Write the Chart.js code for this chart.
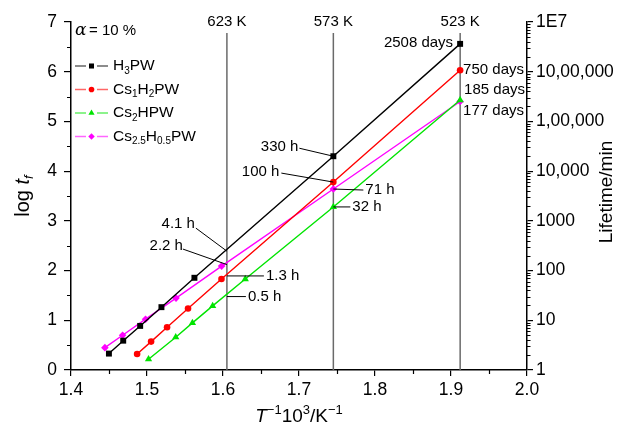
<!DOCTYPE html>
<html><head><meta charset="utf-8">
<script src="https://cdn.jsdelivr.net/npm/chart.js@4"></script>
<style>html,body{margin:0;padding:0;background:#fff}#wrap{width:623px;height:431px}</style>
</head><body><div id="wrap"><canvas id="c" width="623" height="431"></canvas></div>
<script>
// ---------- DATA ----------
const seriesNames = ['H3PW', 'Cs1H2PW', 'Cs2HPW', 'Cs2.5H0.5PW'];
const xH3PW   = [1.4499, 1.4687, 1.4910, 1.5190, 1.5624, 1.7452, 1.9120];
const yH3PW   = [0.33, 0.59, 0.887, 1.264, 1.855, 4.30, 6.56];
const xCs1    = [1.4870, 1.5054, 1.5264, 1.5540, 1.5980, 1.7452, 1.9120];
const yCs1    = [0.323, 0.571, 0.861, 1.236, 1.829, 3.78, 6.03];
const xCs2    = [1.5020, 1.5378, 1.5598, 1.5864, 1.6293, 1.7452, 1.9120];
const yCs2    = [0.216, 0.659, 0.948, 1.29, 1.829, 3.28, 5.43];
const xCs25   = [1.4446, 1.4679, 1.4981, 1.5382, 1.5982, 1.7452, 1.9120];
const yCs25   = [0.45, 0.70, 1.022, 1.446, 2.09, 3.64, 5.40];
const rightTickLabels = ['1', '10', '100', '1000', '10,000', '1,00,000', '10,00,000', '1E7'];
const tempLinesK = [623, 573, 523];
const alphaText = '= 10 %';
// callouts at 623 K (lifetime in hours)
const callouts623 = [['4.1 h', 4.1], ['2.2 h', 2.2], ['1.3 h', 1.3], ['0.5 h', 0.5]];
// callouts on series points: [text, seriesIndex, pointIndex]
const pointCallouts = [
  ['330 h', 0, 5], ['100 h', 1, 5], ['71 h', 3, 5], ['32 h', 2, 5],
  ['2508 days', 0, 6], ['750 days', 1, 6], ['185 days', 2, 6], ['177 days', 3, 6]
];

// ---------- STYLE / LAYOUT ----------
const FAM = '"Liberation Sans", Arial, Helvetica, sans-serif';
const colors = ['#000000', '#ff0000', '#00e400', '#ff00ff'];
const styles = ['rect', 'circle', 'triangle', 'rectRot'];
const radii = [4.2, 3.3, 4.2, 3.8];
// offsets in px: [textDx, textDy, align, leaderDx, leaderDy] (leaderDx null = no leader)
const layout623 = [
  [-32, -27, 'right', -31, -23],
  [-44, -19, 'right', -44, -15.5],
  [39, 0, 'left', 37, 0],
  [21, 0, 'left', 19, 0]
];
const layoutPts = [
  [-35, -9, 'right', -34, -8],
  [-54, -10, 'right', -52, -9],
  [32, 1, 'left', 30, 1],
  [19, 0, 'left', 17, 0],
  [-7, -1.5, 'right', null, null],
  [3, -0.5, 'left', null, null],
  [4, -10, 'left', null, null],
  [3, 9, 'left', null, null]
];
const xs = [xH3PW, xCs1, xCs2, xCs25];
const ys = [yH3PW, yCs1, yCs2, yCs25];

function drawRich(ctx, parts, x, y, size, align) {
  const fontFor = p => `${p.it ? 'italic ' : ''}${(p.sub || p.sup) ? Math.round(size * 0.66) : size}px ${FAM}`;
  let w = 0;
  parts.forEach(p => { ctx.font = fontFor(p); w += ctx.measureText(p.t).width; });
  let cx = align === 'center' ? x - w / 2 : align === 'right' ? x - w : x;
  ctx.textAlign = 'left'; ctx.textBaseline = 'middle';
  parts.forEach(p => {
    ctx.font = fontFor(p);
    const dy = p.sub ? size * 0.32 : p.sup ? -size * 0.32 : 0;
    ctx.fillText(p.t, cx, y + dy);
    cx += ctx.measureText(p.t).width;
  });
}
function chem(name) {
  return name.split(/([\d.]+)/).filter(s => s.length).map(s => /^[\d.]+$/.test(s) ? { t: s, sub: true } : { t: s });
}
function marker(ctx, style, r, x, y, color) {
  ctx.save(); ctx.fillStyle = color; ctx.strokeStyle = color; ctx.beginPath();
  if (style === 'rect') { const s = r * Math.SQRT1_2; ctx.rect(x - s, y - s, 2 * s, 2 * s); }
  else if (style === 'circle') { ctx.arc(x, y, r, 0, Math.PI * 2); }
  else if (style === 'triangle') {
    ctx.moveTo(x, y - r); ctx.lineTo(x + r * 0.866, y + r * 0.5); ctx.lineTo(x - r * 0.866, y + r * 0.5); ctx.closePath();
  } else { ctx.moveTo(x, y - r); ctx.lineTo(x + r, y); ctx.lineTo(x, y + r); ctx.lineTo(x - r, y); ctx.closePath(); }
  ctx.fill(); ctx.restore();
}

const decor = {
  id: 'decor',
  beforeDatasetsDraw(chart) {
    const { ctx, scales: { x }, chartArea: a } = chart;
    ctx.save();
    ctx.strokeStyle = '#6a6a6a'; ctx.lineWidth = 1.5;
    tempLinesK.forEach(T => {
      const px = x.getPixelForValue(1000 / T);
      ctx.beginPath(); ctx.moveTo(px, a.top + 11); ctx.lineTo(px, a.bottom); ctx.stroke();
    });
    ctx.restore();
  },
  afterDraw(chart) {
    const { ctx, scales: { x, y }, chartArea: a } = chart;
    ctx.save();
    ctx.fillStyle = '#000'; ctx.strokeStyle = '#000';
    // minor ticks
    ctx.lineWidth = 1.2;
    ctx.beginPath();
    for (let i = 0; i < 6; i++) {
      const px = Math.round(x.getPixelForValue(1.45 + i * 0.1)) + 0.5;
      ctx.moveTo(px, a.bottom); ctx.lineTo(px, a.bottom + 4);
    }
    for (let i = 0; i < 7; i++) {
      const py = Math.round(y.getPixelForValue(i + 0.5)) + 0.5;
      ctx.moveTo(a.left - 4, py); ctx.lineTo(a.left, py);
    }
    for (let n = 0; n < 7; n++) for (let k = 2; k <= 9; k++) {
      const py = Math.round(y.getPixelForValue(n + Math.log10(k))) + 0.5;
      ctx.moveTo(a.right, py); ctx.lineTo(a.right + 3.5, py);
    }
    ctx.stroke();
    // temperature labels
    ctx.font = `15px ${FAM}`; ctx.textAlign = 'center'; ctx.textBaseline = 'middle';
    tempLinesK.forEach(T => ctx.fillText(T + ' K', x.getPixelForValue(1000 / T), a.top));
    // alpha label
    ctx.font = `italic 17px "DejaVu Serif", serif`; ctx.textAlign = 'left';
    ctx.fillText('α', 75, 31);
    ctx.font = `15px ${FAM}`;
    ctx.fillText(alphaText, 89, 31);
    // legend
    seriesNames.forEach((n, i) => {
      const ly = 66 + i * 23.5;
      ctx.save(); ctx.strokeStyle = colors[i]; ctx.globalAlpha = 0.6; ctx.lineWidth = 1.5;
      ctx.beginPath(); ctx.moveTo(75, ly); ctx.lineTo(86, ly); ctx.moveTo(97, ly); ctx.lineTo(108, ly); ctx.stroke(); ctx.restore();
      marker(ctx, styles[i], radii[i] * 0.85, 91.5, ly, colors[i]);
      ctx.fillStyle = '#000';
      drawRich(ctx, chem(n), 113, ly, 15.5, 'left');
    });
    // callouts
    ctx.lineWidth = 1; ctx.font = `15px ${FAM}`; ctx.textBaseline = 'middle';
    const callout = (text, ax, ay, l) => {
      if (l[3] !== null) { ctx.beginPath(); ctx.moveTo(ax, ay); ctx.lineTo(ax + l[3], ay + l[4]); ctx.stroke(); }
      ctx.textAlign = l[2]; ctx.fillText(text, ax + l[0], ay + l[1]);
    };
    const x623 = x.getPixelForValue(1000 / 623);
    callouts623.forEach((c, i) => callout(c[0], x623, y.getPixelForValue(Math.log10(c[1] * 60)), layout623[i]));
    pointCallouts.forEach((c, i) => {
      callout(c[0], x.getPixelForValue(xs[c[1]][c[2]]), y.getPixelForValue(ys[c[1]][c[2]]), layoutPts[i]);
    });
    // axis titles
    ctx.save(); ctx.translate(23, (a.top + a.bottom) / 2); ctx.rotate(-Math.PI / 2);
    drawRich(ctx, [{ t: 'log ' }, { t: 't', it: true }, { t: 'f', it: true, sub: true }], 0, 0, 20, 'center');
    ctx.restore();
    ctx.save(); ctx.translate(607, (a.top + a.bottom) / 2 - 4); ctx.rotate(-Math.PI / 2);
    drawRich(ctx, [{ t: 'Lifetime/min' }], 0, 0, 19, 'center');
    ctx.restore();
    drawRich(ctx, [{ t: 'T', it: true }, { t: '−1', sup: true }, { t: '10' }, { t: '3', sup: true }, { t: '/K' }, { t: '−1', sup: true }],
      (a.left + a.right) / 2, 417, 19, 'center');
    ctx.restore();
  }
};

const datasets = seriesNames.map((n, i) => ({
  label: n,
  data: xs[i].map((v, j) => ({ x: v, y: ys[i][j] })),
  showLine: true,
  borderColor: colors[i], backgroundColor: colors[i],
  borderWidth: 1.4,
  pointStyle: styles[i], pointRadius: radii[i], pointBorderWidth: 0,
  pointBackgroundColor: colors[i],
  yAxisID: 'y'
}));
// invisible dataset to activate right axis
datasets.push({ data: [], yAxisID: 'y2', showLine: false });

const tickFont = { family: FAM, size: 17.5 };
new Chart(document.getElementById('c'), {
  type: 'scatter',
  data: { datasets },
  options: {
    responsive: false, animation: false, devicePixelRatio: 1,
    layout: { padding: { top: 22, left: 0, right: 0, bottom: 0 } },
    plugins: { legend: { display: false }, tooltip: { enabled: false } },
    scales: {
      x: {
        type: 'linear', min: 1.4, max: 2.0,
        afterFit: s => { s.height = 61; },
        ticks: { stepSize: 0.1, color: '#000', font: tickFont, padding: 4, callback: v => v.toFixed(1), maxRotation: 0 },
        grid: { drawOnChartArea: false, color: '#000', tickColor: '#000', tickLength: 6, lineWidth: 1.2 },
        border: { display: true, color: '#000', width: 1.5 }
      },
      y: {
        type: 'linear', position: 'left', min: 0, max: 7,
        afterFit: s => { s.width = 71; },
        ticks: { stepSize: 1, color: '#000', font: tickFont, padding: 7 },
        grid: { drawOnChartArea: false, color: '#000', tickColor: '#000', tickLength: 7, lineWidth: 1.2 },
        border: { display: true, color: '#000', width: 1.5 }
      },
      y2: {
        type: 'linear', position: 'right', min: 0, max: 7,
        afterFit: s => { s.width = 96; },
        ticks: { stepSize: 1, color: '#000', font: tickFont, padding: 3, callback: (v) => rightTickLabels[Math.round(v)] },
        grid: { drawOnChartArea: false, color: '#000', tickColor: '#000', tickLength: 6, lineWidth: 1.2 },
        border: { display: true, color: '#000', width: 1.5 }
      }
    }
  },
  plugins: [decor]
});
</script>
</body></html>
